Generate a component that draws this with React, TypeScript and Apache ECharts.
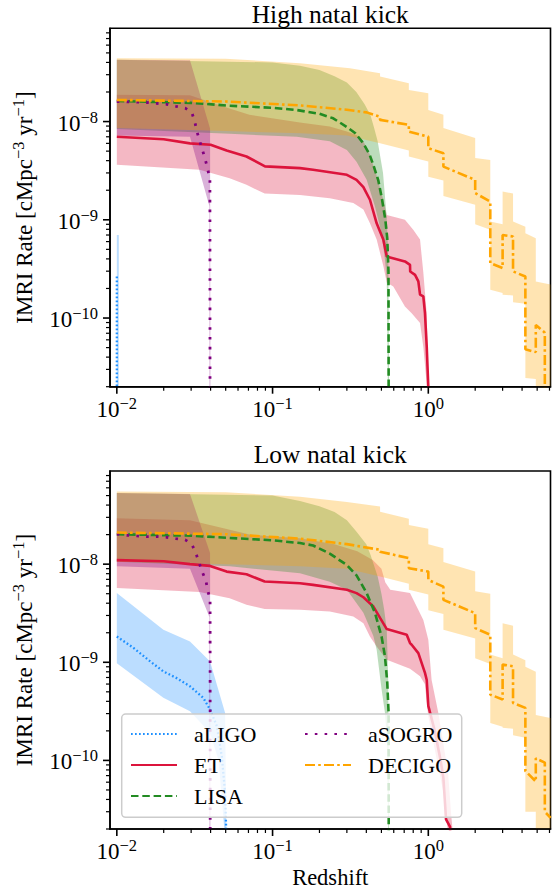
import React, { useEffect, useRef } from 'react';
import * as echarts from 'echarts';

// ---------- axes ----------
const X_MIN = 0.00904;
const X_MAX = 6.09;
const Y_MIN = 2.0e-11;
const Y_MAX = 8.9e-8;
const FLOOR = 1e-12; // rate dropping to zero

const X_MAJOR = [0.01, 0.1, 1];
const X_MINOR = [0.02, 0.03, 0.04, 0.05, 0.06, 0.07, 0.08, 0.09, 0.2, 0.3, 0.4, 0.5, 0.6, 0.7, 0.8, 0.9, 2, 3, 4, 5, 6];
const Y_MAJOR = [1e-10, 1e-9, 1e-8];
const Y_MINOR = [2e-11, 3e-11, 4e-11, 5e-11, 6e-11, 7e-11, 8e-11, 9e-11, 2e-10, 3e-10, 4e-10, 5e-10, 6e-10, 7e-10, 8e-10, 9e-10,
  2e-9, 3e-9, 4e-9, 5e-9, 6e-9, 7e-9, 8e-9, 9e-9, 2e-8, 3e-8, 4e-8, 5e-8, 6e-8, 7e-8, 8e-8];

const TITLES = ['High natal kick', 'Low natal kick'];
const DETECTOR_NAMES = ['aLIGO', 'ET', 'LISA', 'aSOGRO', 'DECIGO'];

// ---------- High natal kick: [redshift, rate] ----------
const HIGH_ALIGO_MED = [[0.01, 2.65e-10], [0.01, FLOOR]];
const HIGH_ALIGO_UP = [[0.01, 7.0e-10], [0.0103, 7.0e-10], [0.0103, FLOOR]];
const HIGH_ALIGO_LO = [[0.01, FLOOR]];

const HIGH_ET_MED = [[0.01, 7.0e-9], [0.02, 6.6e-9], [0.0295, 6.0e-9], [0.04, 5.8e-9], [0.0507, 5.07e-9], [0.068, 4.41e-9], [0.0894, 3.5e-9], [0.15, 3.36e-9], [0.182, 3.23e-9], [0.3, 2.87e-9], [0.346, 2.55e-9], [0.383, 2.15e-9], [0.422, 1.6e-9], [0.466, 9.2e-10], [0.514, 6.3e-10], [0.541, 4.24e-10], [0.553, 4.18e-10], [0.708, 3.77e-10], [0.763, 3.48e-10], [0.765, 2.98e-10], [0.822, 2.75e-10], [0.863, 2.36e-10], [0.885, 1.73e-10], [0.929, 1.66e-10], [0.952, 1.12e-10], [0.977, 5.1e-11], [1.0, 2.0e-11], [1.0, FLOOR]];
const HIGH_ET_UP = [[0.01, 1.87e-8], [0.0295, 1.85e-8], [0.05, 1.4e-8], [0.071, 1.17e-8], [0.15, 9.8e-9], [0.233, 8.9e-9], [0.3, 7.9e-9], [0.346, 7.3e-9], [0.383, 6.3e-9], [0.422, 4.6e-9], [0.466, 2.8e-9], [0.514, 1.6e-9], [0.541, 1.12e-9], [0.708, 1.0e-9], [0.8, 7.9e-10], [0.885, 6.3e-10], [0.929, 2.9e-10], [0.977, 1.1e-10], [1.0, FLOOR]];
const HIGH_ET_LO = [[0.01, 3.63e-9], [0.034, 3.23e-9], [0.053, 2.65e-9], [0.068, 2.27e-9], [0.089, 1.85e-9], [0.15, 1.79e-9], [0.233, 1.66e-9], [0.33, 1.48e-9], [0.383, 1.27e-9], [0.422, 9.2e-10], [0.466, 6.3e-10], [0.514, 3.4e-10], [0.541, 2.3e-10], [0.596, 2.1e-10], [0.708, 1.31e-10], [0.782, 1.12e-10], [0.885, 8.9e-11], [0.93, 5.0e-11], [0.98, FLOOR]];

const HIGH_LISA_MED = [[0.01, 1.62e-8], [0.03, 1.55e-8], [0.053, 1.45e-8], [0.1, 1.38e-8], [0.143, 1.31e-8], [0.2, 1.2e-8], [0.245, 1.08e-8], [0.3, 8.8e-9], [0.34, 7.6e-9], [0.383, 6.0e-9], [0.42, 4.6e-9], [0.444, 3.6e-9], [0.478, 2.5e-9], [0.505, 1.6e-9], [0.53, 1.0e-9], [0.545, 6.5e-10], [0.555, 3.0e-10], [0.558, FLOOR]];
const HIGH_LISA_UP = [[0.01, 4.25e-8], [0.1, 4.0e-8], [0.15, 3.7e-8], [0.2, 3.35e-8], [0.25, 2.9e-8], [0.3, 2.5e-8], [0.345, 2.0e-8], [0.39, 1.5e-8], [0.426, 1.15e-8], [0.45, 8.5e-9], [0.473, 6.3e-9], [0.512, 3.0e-9], [0.54, 1.08e-9], [0.554, 4.2e-10], [0.56, FLOOR]];
const HIGH_LISA_LO = [[0.01, 8.4e-9], [0.053, 7.5e-9], [0.143, 7.0e-9], [0.233, 6.3e-9], [0.3, 5.15e-9], [0.346, 3.9e-9], [0.402, 2.55e-9], [0.455, 1.36e-9], [0.501, 7.3e-10], [0.527, 3.9e-10], [0.541, 2.5e-10], [0.55, FLOOR]];

const HIGH_SOGRO_MED = [[0.01, 1.6e-8], [0.015, 1.57e-8], [0.0209, 1.5e-8], [0.024, 1.43e-8], [0.0275, 1.37e-8], [0.0303, 1.24e-8], [0.0317, 9.9e-9], [0.0327, 7.9e-9], [0.0341, 6.3e-9], [0.0355, 5.1e-9], [0.037, 4.1e-9], [0.0383, 3.3e-9], [0.0396, 2.6e-9], [0.0397, FLOOR]];
const HIGH_SOGRO_UP = [[0.01, 4.25e-8], [0.0295, 4.2e-8], [0.0397, 8.5e-9], [0.0399, FLOOR]];
const HIGH_SOGRO_LO = [[0.01, 7.2e-9], [0.0295, 7.0e-9], [0.0393, 1.37e-9], [0.0393, FLOOR]];

const HIGH_DECIGO_MED = [[0.01, 1.66e-8], [0.05, 1.6e-8], [0.15, 1.46e-8], [0.3, 1.32e-8], [0.402, 1.24e-8], [0.49, 1.12e-8], [0.49, 1.04e-8], [0.75, 9.25e-9], [0.75, 7.9e-9], [1.0, 7.0e-9], [1.0, 5.35e-9], [1.25, 4.77e-9], [1.25, 3.48e-9], [2.0, 2.55e-9], [2.0, 1.87e-9], [2.5, 1.53e-9], [2.5, 3.63e-10], [3.0, 3.23e-10], [3.0, 7.0e-10], [3.5, 6.76e-10], [3.5, 2.98e-10], [4.2, 2.65e-10], [4.2, 4.8e-11], [4.9, 4.5e-11], [4.9, 8.5e-11], [5.6, 7.1e-11], [5.6, 1.8e-11], [6.1, 1.7e-11]];
const HIGH_DECIGO_UP = [[0.01, 4.4e-8], [0.05, 4.35e-8], [0.15, 3.93e-8], [0.314, 3.49e-8], [0.49, 3.1e-8], [0.49, 2.87e-8], [0.75, 2.46e-8], [0.75, 2.1e-8], [1.0, 1.94e-8], [1.0, 1.31e-8], [1.25, 1.17e-8], [1.25, 8.6e-9], [2.0, 6.8e-9], [2.0, 4.25e-9], [2.5, 4.07e-9], [2.5, 9.6e-10], [3.0, 9.0e-10], [3.0, 1.94e-9], [3.5, 1.85e-9], [3.5, 9.6e-10], [4.2, 8.5e-10], [4.2, 7.3e-10], [4.9, 6.5e-10], [4.9, 2.36e-10], [6.1, 2.2e-10]];
const HIGH_DECIGO_LO = [[0.01, 8.6e-9], [0.05, 8.0e-9], [0.15, 7.6e-9], [0.3, 7.2e-9], [0.49, 6.0e-9], [0.75, 5.07e-9], [0.75, 4.41e-9], [1.0, 3.92e-9], [1.0, 2.75e-9], [1.25, 2.51e-9], [1.25, 1.75e-9], [2.0, 1.42e-9], [2.0, 9.0e-10], [2.5, 7.9e-10], [2.5, 1.94e-10], [3.0, 1.8e-10], [3.0, 1.73e-10], [3.5, 1.7e-10], [3.5, 1.45e-10], [4.2, 1.4e-10], [4.2, 2.45e-11], [4.9, 2.4e-11], [4.9, FLOOR], [6.1, FLOOR]];

// ---------- Low natal kick: [redshift, rate] ----------
const LOW_ALIGO_MED = [[0.01, 1.83e-9], [0.0128, 1.4e-9], [0.0164, 1.02e-9], [0.0199, 8.07e-10], [0.0242, 6.9e-10], [0.0295, 5.69e-10], [0.0359, 4.34e-10], [0.0397, 3.3e-10], [0.0439, 2.23e-10], [0.0472, 1.1e-10], [0.0496, 4.67e-11], [0.0503, 2.1e-11], [0.0505, FLOOR]];
const LOW_ALIGO_UP = [[0.01, 5.07e-9], [0.0199, 2.15e-9], [0.0295, 1.63e-9], [0.0397, 1.02e-9], [0.0496, 3.05e-10], [0.0505, FLOOR]];
const LOW_ALIGO_LO = [[0.01, 9.8e-10], [0.0199, 4.34e-10], [0.0295, 3.17e-10], [0.0397, 1.9e-10], [0.045, 1.0e-10], [0.049, FLOOR]];

const LOW_ET_MED = [[0.01, 1.1e-8], [0.02, 1.07e-8], [0.0295, 1.0e-8], [0.0397, 9.6e-9], [0.0507, 8.4e-9], [0.068, 7.9e-9], [0.089, 6.65e-9], [0.15, 6.4e-9], [0.182, 6.15e-9], [0.3, 5.48e-9], [0.346, 5.07e-9], [0.383, 4.6e-9], [0.444, 3.7e-9], [0.49, 2.83e-9], [0.541, 2.18e-9], [0.727, 1.91e-9], [0.763, 1.57e-9], [0.782, 1.51e-9], [0.863, 1.24e-9], [0.952, 7.8e-10], [0.977, 6.6e-10], [1.0, 3.6e-10], [1.1, 2.0e-10], [1.2, 1.0e-10], [1.25, 6.6e-11], [1.3, 2.5e-11], [1.38, 2.1e-11], [1.4, FLOOR]];
const LOW_ET_UP = [[0.01, 2.94e-8], [0.0295, 2.8e-8], [0.05, 2.3e-8], [0.071, 2.0e-8], [0.15, 1.84e-8], [0.25, 1.6e-8], [0.35, 1.35e-8], [0.44, 1.1e-8], [0.5, 9.0e-9], [0.53, 6.5e-9], [0.57, 5.5e-9], [0.763, 5.07e-9], [0.842, 3.7e-9], [0.929, 2.7e-9], [1.0, 1.7e-9], [1.05, 6.6e-10], [1.16, 3.05e-10], [1.34, 7.5e-11], [1.4, 2.9e-11], [1.43, FLOOR]];
const LOW_ET_LO = [[0.01, 5.7e-9], [0.034, 5.2e-9], [0.053, 4.5e-9], [0.068, 3.85e-9], [0.089, 3.5e-9], [0.15, 3.44e-9], [0.233, 3.3e-9], [0.33, 2.93e-9], [0.383, 2.5e-9], [0.422, 1.83e-9], [0.466, 1.45e-9], [0.541, 1.06e-9], [0.763, 8.6e-10], [0.885, 7.2e-10], [0.95, 6.0e-10], [1.0, 2.8e-10], [1.08, 1.5e-10], [1.25, 4.7e-11], [1.31, 2.5e-11], [1.33, FLOOR]];

const LOW_LISA_MED = [[0.01, 2.02e-8], [0.03, 1.95e-8], [0.053, 1.85e-8], [0.1, 1.75e-8], [0.15, 1.64e-8], [0.182, 1.55e-8], [0.233, 1.28e-8], [0.3, 9.8e-9], [0.346, 7.7e-9], [0.402, 5.07e-9], [0.455, 3.17e-9], [0.501, 1.83e-9], [0.527, 1.15e-9], [0.545, 6.2e-10], [0.556, 3.05e-10], [0.558, FLOOR]];
const LOW_LISA_UP = [[0.01, 5.3e-8], [0.1, 5.0e-8], [0.15, 4.4e-8], [0.2, 3.9e-8], [0.25, 3.4e-8], [0.3, 2.8e-8], [0.345, 2.15e-8], [0.4, 1.6e-8], [0.426, 1.24e-8], [0.473, 7.5e-9], [0.5, 5.0e-9], [0.52, 3.5e-9], [0.541, 2.15e-9], [0.553, 6.6e-10], [0.558, FLOOR]];
const LOW_LISA_LO = [[0.01, 1.06e-8], [0.053, 9.5e-9], [0.15, 8.1e-9], [0.233, 6.6e-9], [0.3, 5.5e-9], [0.383, 3.2e-9], [0.444, 1.85e-9], [0.466, 1.34e-9], [0.501, 5.3e-10], [0.527, 3.05e-10], [0.545, 1.5e-10], [0.552, FLOOR]];

const LOW_SOGRO_MED = [[0.01, 2.02e-8], [0.0116, 1.97e-8], [0.0134, 1.94e-8], [0.0156, 1.91e-8], [0.018, 1.91e-8], [0.0209, 1.88e-8], [0.024, 1.82e-8], [0.0275, 1.77e-8], [0.0303, 1.6e-8], [0.0322, 1.29e-8], [0.0337, 1.04e-8], [0.0353, 8.4e-9], [0.0373, 6.8e-9], [0.0383, 5.48e-9], [0.0397, 4.34e-9], [0.0398, FLOOR]];
const LOW_SOGRO_UP = [[0.01, 5.3e-8], [0.0295, 5.2e-8], [0.0397, 1.3e-8], [0.0399, FLOOR]];
const LOW_SOGRO_LO = [[0.01, 9.5e-9], [0.0295, 9.0e-9], [0.0393, 2.9e-9], [0.0393, FLOOR]];

const LOW_DECIGO_MED = [[0.01, 2.1e-8], [0.05, 2.02e-8], [0.15, 1.82e-8], [0.3, 1.6e-8], [0.49, 1.4e-8], [0.49, 1.34e-8], [0.75, 1.15e-8], [0.75, 9.1e-9], [1.0, 8.4e-9], [1.0, 6.9e-9], [1.25, 5.9e-9], [1.25, 4.33e-9], [2.0, 3.17e-9], [2.0, 2.23e-9], [2.5, 1.91e-9], [2.5, 4.68e-10], [3.0, 4.17e-10], [3.0, 9.5e-10], [3.5, 9.1e-10], [3.5, 3.85e-10], [4.2, 3.43e-10], [4.2, 7.8e-11], [4.9, 6.1e-11], [4.9, 1.05e-10], [5.6, 9.5e-11], [5.6, 3.0e-11], [6.1, 2.6e-11]];
const LOW_DECIGO_UP = [[0.01, 5.5e-8], [0.05, 5.4e-8], [0.15, 4.87e-8], [0.3, 4.3e-8], [0.49, 3.86e-8], [0.49, 3.43e-8], [0.75, 2.9e-8], [0.75, 2.5e-8], [1.0, 2.3e-8], [1.0, 1.6e-8], [1.25, 1.45e-8], [1.25, 1.05e-8], [2.0, 8.4e-9], [2.0, 5.3e-9], [2.5, 5.0e-9], [2.5, 1.2e-9], [3.0, 1.1e-9], [3.0, 2.5e-9], [3.5, 2.35e-9], [3.5, 1.2e-9], [4.2, 1.05e-9], [4.2, 9.0e-10], [4.9, 8.0e-10], [4.9, 2.9e-10], [6.1, 2.7e-10]];
const LOW_DECIGO_LO = [[0.01, 1.06e-8], [0.05, 1.0e-8], [0.15, 9.5e-9], [0.3, 9.0e-9], [0.49, 7.5e-9], [0.75, 6.3e-9], [0.75, 5.5e-9], [1.0, 4.9e-9], [1.0, 3.4e-9], [1.25, 3.1e-9], [1.25, 2.15e-9], [2.0, 1.75e-9], [2.0, 1.1e-9], [2.5, 9.6e-10], [2.5, 2.4e-10], [3.0, 2.2e-10], [3.0, 2.15e-10], [3.5, 2.1e-10], [3.5, 1.8e-10], [4.2, 1.7e-10], [4.2, 3.0e-11], [4.9, 3.0e-11], [4.9, FLOOR], [6.1, FLOOR]];

const PANELS = [
  {
    med: [HIGH_ALIGO_MED, HIGH_ET_MED, HIGH_LISA_MED, HIGH_SOGRO_MED, HIGH_DECIGO_MED],
    up: [HIGH_ALIGO_UP, HIGH_ET_UP, HIGH_LISA_UP, HIGH_SOGRO_UP, HIGH_DECIGO_UP],
    lo: [HIGH_ALIGO_LO, HIGH_ET_LO, HIGH_LISA_LO, HIGH_SOGRO_LO, HIGH_DECIGO_LO],
  },
  {
    med: [LOW_ALIGO_MED, LOW_ET_MED, LOW_LISA_MED, LOW_SOGRO_MED, LOW_DECIGO_MED],
    up: [LOW_ALIGO_UP, LOW_ET_UP, LOW_LISA_UP, LOW_SOGRO_UP, LOW_DECIGO_UP],
    lo: [LOW_ALIGO_LO, LOW_ET_LO, LOW_LISA_LO, LOW_SOGRO_LO, LOW_DECIGO_LO],
  },
];

// ---------- styles ----------
const FONT = "'Liberation Serif', 'DejaVu Serif', serif";
const STYLES = [
  { color: '#1E90FF', fill: 'rgba(30,144,255,0.3)', width: 2.3, dash: [1.7, 2.3] as any },
  { color: '#DC143C', fill: 'rgba(220,20,60,0.3)', width: 2.6, dash: 'solid' as any },
  { color: '#228B22', fill: 'rgba(34,139,34,0.3)', width: 2.6, dash: [7.5, 3.8] as any },
  { color: '#800080', fill: 'rgba(128,0,128,0.3)', width: 2.8, dash: [2.6, 7.2] as any },
  { color: '#FFA500', fill: 'rgba(255,165,0,0.3)', width: 2.6, dash: [10, 3.2, 2.6, 3.2] as any },
];

const GRIDS = [
  { left: 110, top: 28.3, width: 440.5, height: 358.4 },
  { left: 110, top: 471, width: 440.5, height: 358.2 },
];

const supRich = {
  b: { fontSize: 23, fontFamily: FONT, color: '#000', verticalAlign: 'bottom' },
  s: { fontSize: 16.5, fontFamily: FONT, color: '#000', verticalAlign: 'bottom', padding: [0, 0, 9, 0] },
};

function powLabel(v: number) {
  const e = Math.log10(v);
  const r = Math.round(e);
  if (Math.abs(e - r) > 1e-6) return '';
  return `{b|10}{s|${r < 0 ? '\u2212' + -r : r}}`;
}

function buildOption() {
  const series: any[] = [];
  PANELS.forEach((panel, gi) => {
    // bands
    DETECTOR_NAMES.forEach((name, di) => {
      const up = panel.up[di];
      const lo = panel.lo[di];
      series.push({
        type: 'custom',
        name: name + ' range',
        xAxisIndex: gi,
        yAxisIndex: gi,
        z: 1,
        clip: true,
        silent: true,
        data: [[up[0][0], up[0][1]]],
        renderItem: (params: any, api: any) => {
          const ring = up.concat(lo.slice().reverse());
          const pts = ring.map((p) => api.coord([Math.min(Math.max(p[0], X_MIN), X_MAX), Math.max(p[1], Y_MIN)]));
          return { type: 'polygon', shape: { points: pts }, style: { fill: STYLES[di].fill, stroke: null } };
        },
      });
    });
    // median lines
    DETECTOR_NAMES.forEach((name, di) => {
      const st = STYLES[di];
      series.push({
        type: 'line',
        name,
        xAxisIndex: gi,
        yAxisIndex: gi,
        z: 2,
        data: panel.med[di],
        symbol: 'none',
        clip: true,
        silent: true,
        itemStyle: { color: st.color },
        lineStyle: { color: st.color, width: st.width, type: st.dash, cap: 'butt' },
        emphasis: { disabled: true },
      });
    });
    // ticks (matplotlib-style major + minor)
    const tickData = [
      ...X_MAJOR.map((v) => [v, Y_MIN, 0]),
      ...X_MINOR.map((v) => [v, Y_MIN, 1]),
      ...Y_MAJOR.map((v) => [X_MIN, v, 2]),
      ...Y_MINOR.map((v) => [X_MIN, v, 3]),
    ];
    series.push({
      type: 'custom',
      name: 'ticks' + gi,
      xAxisIndex: gi,
      yAxisIndex: gi,
      z: 5,
      clip: false,
      silent: true,
      encode: { x: 0, y: 1 },
      data: tickData,
      renderItem: (params: any, api: any) => {
        const k = api.value(2);
        const p = api.coord([api.value(0), api.value(1)]);
        const major = k % 2 === 0;
        const len = major ? 7 : 4;
        const shape = k < 2
          ? { x1: p[0], y1: p[1], x2: p[0], y2: p[1] + len }
          : { x1: p[0] - len, y1: p[1], x2: p[0], y2: p[1] };
        return { type: 'line', shape, style: { stroke: '#000', lineWidth: major ? 1.6 : 1.2 } };
      },
    });
  });

  const legendBase = {
    orient: 'vertical',
    itemWidth: 46,
    itemHeight: 14,
    itemGap: 9,
    padding: 0,
    selectedMode: false,
    z: 10,
    itemStyle: { opacity: 0 },
    textStyle: { fontFamily: FONT, fontSize: 22, color: '#000', padding: [0, 0, 0, 12] },
  };

  const titleStyle = { fontSize: 25.5, fontFamily: FONT, fill: '#000', textAlign: 'center', textVerticalAlign: 'middle', align: 'center', verticalAlign: 'middle' };

  return {
    animation: false,
    backgroundColor: '#fff',
    grid: GRIDS.map((g) => ({ ...g, show: true, borderColor: '#000', borderWidth: 1.6, backgroundColor: 'transparent' })),
    xAxis: GRIDS.map((g, gi) => ({
      type: 'log',
      logBase: 10,
      gridIndex: gi,
      min: X_MIN,
      max: X_MAX,
      z: 6,
      axisLine: { show: true, onZero: false, lineStyle: { color: '#000', width: 1.6 } },
      axisTick: { show: false },
      minorTick: { show: false },
      splitLine: { show: false },
      axisLabel: { interval: 0, margin: 8, formatter: powLabel, rich: supRich, hideOverlap: false },
      name: gi === 1 ? 'Redshift' : '',
      nameLocation: 'middle',
      nameGap: 37,
      nameTextStyle: { fontFamily: FONT, fontSize: 22.5, color: '#000' },
    })),
    yAxis: GRIDS.map((g, gi) => ({
      type: 'log',
      logBase: 10,
      gridIndex: gi,
      min: Y_MIN,
      max: Y_MAX,
      z: 6,
      axisLine: { show: true, onZero: false, lineStyle: { color: '#000', width: 1.6 } },
      axisTick: { show: false },
      minorTick: { show: false },
      splitLine: { show: false },
      axisLabel: { interval: 0, margin: 12, formatter: powLabel, rich: supRich, hideOverlap: false },
      name: '{n|IMRI Rate [cMpc}{s|\u22123}{n| yr}{s|\u22121}{n|]}',
      nameLocation: 'middle',
      nameRotate: 90,
      nameGap: 74,
      nameTextStyle: {
        rich: {
          n: { fontSize: 23, fontFamily: FONT, color: '#000', verticalAlign: 'bottom' },
          s: { fontSize: 16.5, fontFamily: FONT, color: '#000', verticalAlign: 'bottom', padding: [0, 0, 9, 0] },
        },
      },
    })),
    legend: [
      { ...legendBase, data: ['aLIGO', 'ET', 'LISA'], left: 130, top: 723 },
      { ...legendBase, data: ['aSOGRO', 'DECIGO'], left: 304, top: 723 },
    ],
    graphic: [
      { type: 'text', x: GRIDS[0].left + GRIDS[0].width / 2, y: 14, z: 10, style: { text: TITLES[0], ...titleStyle } },
      { type: 'text', x: GRIDS[1].left + GRIDS[1].width / 2, y: 454, z: 10, style: { text: TITLES[1], ...titleStyle } },
      {
        type: 'rect', z: 9,
        shape: { x: 121.7, y: 714, width: 340, height: 103.3, r: 4 },
        style: { fill: 'rgba(255,255,255,0.8)', stroke: '#cccccc', lineWidth: 1.5 },
      },
    ],
    series,
  };
}

export default function App() {
  const ref = useRef<HTMLDivElement>(null);
  useEffect(() => {
    if (!ref.current) return;
    const chart = echarts.init(ref.current, undefined, { renderer: 'svg' });
    chart.setOption(buildOption() as any);
    return () => chart.dispose();
  }, []);
  return (
    <div
      ref={ref}
      style={{ position: 'absolute', left: 0, top: 0, width: 559, height: 890, background: '#fff' }}
    />
  );
}
